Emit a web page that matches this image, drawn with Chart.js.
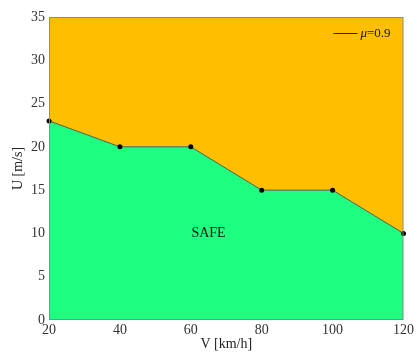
<!DOCTYPE html>
<html>
<head>
<meta charset="utf-8">
<script src="https://cdn.jsdelivr.net/npm/chart.js@4.4.0/dist/chart.umd.min.js"></script>
<style>
  html, body { margin: 0; padding: 0; background: #ffffff; }
  #wrap { width: 416px; height: 355px; }
</style>
</head>
<body>
<div id="wrap"><canvas id="c" width="416" height="355"></canvas></div>
<script>
// Speed limit boundary for friction coefficient mu = 0.9
const speeds = [20, 40, 60, 80, 100, 120];      // V [km/h]
const windLimits = [23, 20, 20, 15, 15, 10];    // U [m/s]
const xTicks = [20, 40, 60, 80, 100, 120];
const yTicks = [0, 5, 10, 15, 20, 25, 30, 35];
const seriesLabel = 'μ=0.9';
const regionLabel = 'SAFE';
const regionLabelAt = { x: 65, y: 10 };

const points = speeds.map((v, i) => ({ x: v, y: windLimits[i] }));
const serif = '"Liberation Serif", "DejaVu Serif", serif';

// Frame, legend and region label drawn on top of the plot area
const decorations = {
  id: 'decorations',
  afterDatasetsDraw(chart) {
    const { ctx, chartArea: a, scales } = chart;
    ctx.save();
    // plot frame
    ctx.strokeStyle = '#8a8a8a';
    ctx.lineWidth = 1;
    ctx.strokeRect(a.left + 0.5, a.top + 0.5, a.right - a.left - 1, a.bottom - a.top - 1);
    // region label
    ctx.fillStyle = '#111';
    ctx.font = '14px ' + serif;
    ctx.textAlign = 'center';
    ctx.textBaseline = 'middle';
    ctx.fillText(regionLabel, scales.x.getPixelForValue(regionLabelAt.x), scales.y.getPixelForValue(regionLabelAt.y));
    // legend: line sample + italic mu
    const ly = a.top + 16;
    const lx = a.right - 70;
    ctx.strokeStyle = '#222';
    ctx.lineWidth = 1;
    ctx.beginPath();
    ctx.moveTo(lx, ly + 0.5);
    ctx.lineTo(lx + 24, ly + 0.5);
    ctx.stroke();
    ctx.textAlign = 'left';
    ctx.font = 'italic 13px ' + serif;
    const mu = seriesLabel.charAt(0);
    ctx.fillText(mu, lx + 27, ly + 1);
    const w = ctx.measureText(mu).width;
    ctx.font = '13px ' + serif;
    ctx.fillText(seriesLabel.slice(1), lx + 27 + w, ly + 1);
    ctx.restore();
  }
};

new Chart(document.getElementById('c'), {
  type: 'line',
  data: {
    datasets: [
      {
        label: 'unsafe',
        data: points,
        fill: 'end',
        backgroundColor: '#ffbe00',
        borderWidth: 0,
        pointRadius: 0,
        order: 3
      },
      {
        label: 'safe',
        data: points,
        fill: 'start',
        backgroundColor: '#1eff82',
        borderWidth: 0,
        pointRadius: 0,
        order: 2
      },
      {
        label: seriesLabel,
        data: points,
        fill: false,
        clip: false,
        borderColor: '#4f5f45',
        borderWidth: 1,
        pointRadius: 2.5,
        pointBackgroundColor: '#000',
        pointBorderColor: '#000',
        pointBorderWidth: 0,
        tension: 0,
        order: 1
      }
    ]
  },
  options: {
    responsive: false,
    animation: false,
    layout: { padding: { top: 17, right: 9, left: 0, bottom: 0 } },
    plugins: {
      legend: { display: false },
      tooltip: { enabled: false }
    },
    scales: {
      x: {
        type: 'linear',
        min: 20,
        max: 120,
        afterBuildTicks(s) { s.ticks = xTicks.map(v => ({ value: v })); },
        grid: { display: false, drawTicks: false, tickLength: 0 },
        border: { display: false },
        ticks: { color: '#333', font: { family: serif, size: 14 }, padding: 2, maxRotation: 0 },
        title: { display: true, text: 'V [km/h]', color: '#222', font: { family: serif, size: 14 }, padding: { top: 0, bottom: 2 } },
        afterFit(s) { s.height = 35; }
      },
      y: {
        type: 'linear',
        min: 0,
        max: 35,
        afterBuildTicks(s) { s.ticks = yTicks.map(v => ({ value: v })); },
        grid: { display: false, drawTicks: false, tickLength: 0 },
        border: { display: false },
        ticks: { color: '#333', font: { family: serif, size: 14 }, padding: 4 },
        title: { display: true, text: 'U [m/s]', color: '#222', font: { family: serif, size: 14 }, padding: { top: 10, bottom: 0 } },
        afterFit(s) { s.width = 49; }
      }
    }
  },
  plugins: [decorations]
});
</script>
</body>
</html>
